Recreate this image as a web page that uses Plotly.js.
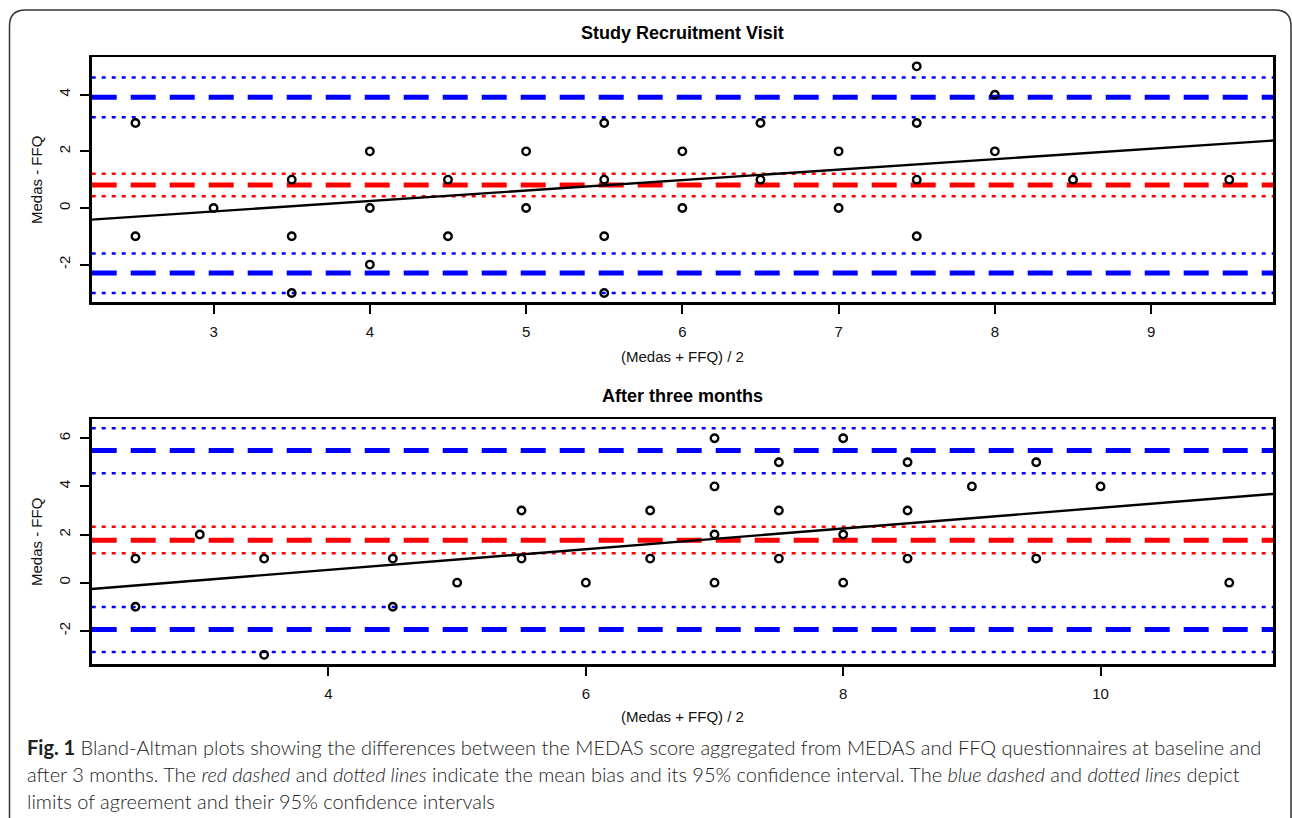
<!DOCTYPE html>
<html>
<head>
<meta charset="utf-8">
<script src="https://cdn.plot.ly/plotly-3.0.1.min.js"></script>
<style>
  html, body { margin: 0; padding: 0; background: #fff; }
  #chart { width: 1292px; height: 818px; }
</style>
</head>
<body>
<div id="chart"></div>
<script>
// ---------- Data: Study Recruitment Visit ----------
const topX = [2.5, 2.5, 3, 3.5, 3.5, 3.5, 4, 4, 4, 4.5, 4.5, 5, 5, 5.5, 5.5, 5.5, 5.5,
              6, 6, 6.5, 6.5, 7, 7, 7.5, 7.5, 7.5, 7.5, 8, 8, 8.5, 9.5];
const topY = [3, -1, 0, 1, -1, -3, 2, 0, -2, 1, -1, 2, 0, 3, 1, -1, -3,
              2, 0, 3, 1, 2, 0, 5, 3, 1, -1, 4, 2, 1, 1];
const topBias = 0.81;
const topBiasCI = [0.41, 1.21];
const topLoA = [-2.30, 3.91];
const topLowerLoACI = [-3.00, -1.61];
const topUpperLoACI = [3.20, 4.61];
const topRegression = { intercept: -1.229, slope: 0.369 };
const topXTicks = [3, 4, 5, 6, 7, 8, 9];
const topYTicks = [-2, 0, 2, 4];

// ---------- Data: After three months ----------
const botX = [2.5, 2.5, 3, 3.5, 3.5, 4.5, 4.5, 5, 5.5, 5.5, 6, 6.5, 6.5,
              7, 7, 7, 7, 7.5, 7.5, 7.5, 8, 8, 8, 8.5, 8.5, 8.5, 9, 9.5, 9.5, 10, 11];
const botY = [1, -1, 2, 1, -3, 1, -1, 0, 3, 1, 0, 3, 1,
              6, 4, 2, 0, 5, 3, 1, 6, 2, 0, 5, 3, 1, 4, 5, 1, 4, 0];
const botBias = 1.76;
const botBiasCI = [1.22, 2.32];
const botLoA = [-1.95, 5.49];
const botLowerLoACI = [-2.88, -1.01];
const botUpperLoACI = [4.55, 6.42];
const botRegression = { intercept: -1.19, slope: 0.430 };
const botXTicks = [4, 6, 8, 10];
const botYTicks = [-2, 0, 2, 4, 6];

// ---------- Text ----------
const titles = ["Study Recruitment Visit", "After three months"];
const xTitle = "(Medas + FFQ) / 2";
const yTitle = "Medas - FFQ";
const captionLines = [
  "<b>Fig. 1</b> Bland-Altman plots showing the differences between the MEDAS score aggregated from MEDAS and FFQ questionnaires at baseline and",
  "after 3 months. The <i>red dashed</i> and <i>dotted lines</i> indicate the mean bias and its 95% confidence interval. The <i>blue dashed</i> and <i>dotted lines</i> depict",
  "limits of agreement and their 95% confidence intervals"
];

// ---------- Layout geometry ----------
const W = 1292, H = 818;
const px = v => v / W;
const py = v => 1 - v / H;

const topRangeX = [2.22, 9.78], topRangeY = [-3.32, 5.32];
const botRangeX = [2.16, 11.34], botRangeY = [-3.38, 6.80];

const DASH = "25px,14px";
const DOT = "4px,6px";
const BLUE = "#0000ff", RED = "#ff0000";

function hline(v, xr, color, width, dash, xa, ya) {
  return { type: "scatter", mode: "lines", x: [xr[0], xr[1]], y: [v, v],
           xaxis: xa, yaxis: ya, hoverinfo: "skip", showlegend: false,
           line: { color: color, width: width, dash: dash } };
}

function panel(xs, ys, bias, biasCI, loa, lowCI, upCI, reg, xr, xa, ya) {
  const t = [];
  [lowCI[0], lowCI[1], upCI[0], upCI[1]].forEach(v => t.push(hline(v, xr, BLUE, 2.5, DOT, xa, ya)));
  biasCI.forEach(v => t.push(hline(v, xr, RED, 2.5, DOT, xa, ya)));
  loa.forEach(v => t.push(hline(v, xr, BLUE, 5, DASH, xa, ya)));
  t.push(hline(bias, xr, RED, 5, DASH, xa, ya));
  t.push({ type: "scatter", mode: "lines", x: [xr[0], xr[1]],
           y: [reg.intercept + reg.slope * xr[0], reg.intercept + reg.slope * xr[1]],
           xaxis: xa, yaxis: ya, hoverinfo: "skip", showlegend: false,
           line: { color: "#000", width: 2.4 } });
  t.push({ type: "scatter", mode: "markers", x: xs, y: ys, xaxis: xa, yaxis: ya,
           showlegend: false,
           marker: { symbol: "circle-open", size: 7.5, color: "#000", line: { width: 2.4, color: "#000" } } });
  return t;
}

const data = []
  .concat(panel(topX, topY, topBias, topBiasCI, topLoA, topLowerLoACI, topUpperLoACI, topRegression, topRangeX, "x", "y"))
  .concat(panel(botX, botY, botBias, botBiasCI, botLoA, botLowerLoACI, botUpperLoACI, botRegression, botRangeX, "x2", "y2"));

const tickFont = { family: "Liberation Sans, Arial, sans-serif", size: 15, color: "#111" };
function xaxisCfg(range, ticks, anchor) {
  return { domain: [px(91.7), px(1273)], range: range, anchor: anchor,
           tickvals: ticks, ticktext: ticks.map(String), tickmode: "array",
           showgrid: false, zeroline: false, showline: true, mirror: true,
           linecolor: "#000", linewidth: 2.5, ticks: "outside", ticklen: 9, tickwidth: 2,
           tickcolor: "#000", tickfont: tickFont, ticklabelstandoff: 5 };
}
function yaxisCfg(range, ticks, anchor, dom) {
  return { domain: dom, range: range, anchor: anchor,
           tickvals: ticks, ticktext: ticks.map(String), tickmode: "array",
           showgrid: false, zeroline: false, showline: true, mirror: true,
           linecolor: "#000", linewidth: 2.5, ticks: "outside", ticklen: 9, tickwidth: 2,
           tickcolor: "#000", tickfont: tickFont, tickangle: -90, ticklabelstandoff: 4 };
}

const textFont = { family: "Liberation Sans, Arial, sans-serif", size: 15, color: "#111" };
const annotations = [
  { text: "<b>" + titles[0] + "</b>", x: px(682.4), y: py(33), xref: "paper", yref: "paper",
    xanchor: "center", yanchor: "middle", showarrow: false,
    font: { family: "Liberation Sans, Arial, sans-serif", size: 18, color: "#000" } },
  { text: "<b>" + titles[1] + "</b>", x: px(682.4), y: py(396), xref: "paper", yref: "paper",
    xanchor: "center", yanchor: "middle", showarrow: false,
    font: { family: "Liberation Sans, Arial, sans-serif", size: 18, color: "#000" } },
  { text: xTitle, x: px(682.4), y: py(356), xref: "paper", yref: "paper",
    xanchor: "center", yanchor: "middle", showarrow: false, font: textFont },
  { text: xTitle, x: px(682.4), y: py(716), xref: "paper", yref: "paper",
    xanchor: "center", yanchor: "middle", showarrow: false, font: textFont },
  { text: yTitle, x: px(36), y: py(180), xref: "paper", yref: "paper", textangle: -90,
    xanchor: "center", yanchor: "middle", showarrow: false, font: textFont },
  { text: yTitle, x: px(36), y: py(542), xref: "paper", yref: "paper", textangle: -90,
    xanchor: "center", yanchor: "middle", showarrow: false, font: textFont }
];
const capY = [747, 774, 801];
captionLines.forEach((s, i) => annotations.push({
  text: s, x: px(25), y: py(capY[i]), xref: "paper", yref: "paper",
  xanchor: "left", yanchor: "middle", showarrow: false, align: "left",
  font: { family: "Lato, Open Sans, sans-serif", size: 20, color: "#222", weight: 300 }
}));

// rounded border frame (open at the bottom, cut by the picture edge)
const L = px(9.5), R = px(1291), T = py(10), B = -0.05, rx = px(16), ry = 16 / H;
const framePath = `M ${L},${B} L ${L},${T - ry} Q ${L},${T} ${L + rx},${T} L ${R - rx},${T} Q ${R},${T} ${R},${T - ry} L ${R},${B}`;

const layout = {
  width: W, height: H,
  margin: { l: 0, r: 0, t: 0, b: 0 },
  paper_bgcolor: "#fff", plot_bgcolor: "#fff",
  showlegend: false,
  xaxis: xaxisCfg(topRangeX, topXTicks, "y"),
  yaxis: yaxisCfg(topRangeY, topYTicks, "x", [py(302), py(57.3)]),
  xaxis2: xaxisCfg(botRangeX, botXTicks, "y2"),
  yaxis2: yaxisCfg(botRangeY, botYTicks, "x2", [py(664), py(419)]),
  annotations: annotations,
  shapes: [{ type: "path", path: framePath, xref: "paper", yref: "paper",
             line: { color: "#333", width: 1.5 }, fillcolor: "rgba(0,0,0,0)" }]
};

Plotly.newPlot("chart", data, layout, { displayModeBar: false, staticPlot: true });
</script>
</body>
</html>
